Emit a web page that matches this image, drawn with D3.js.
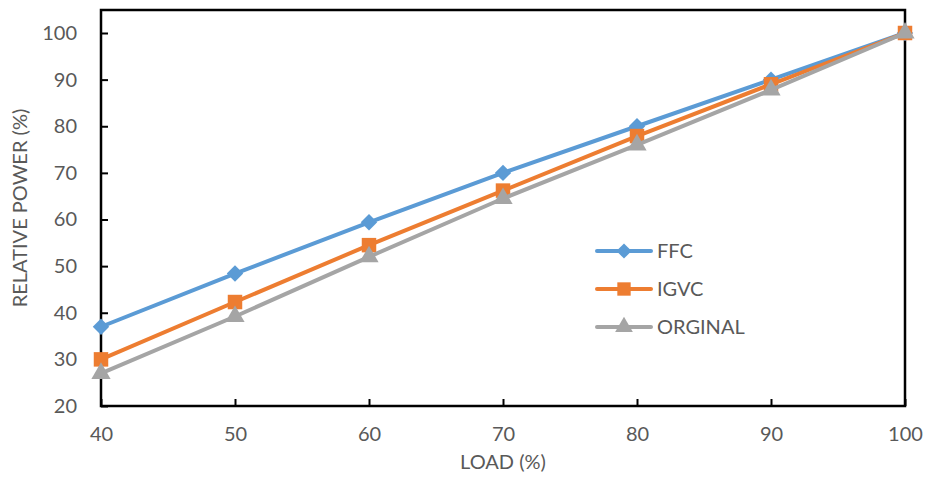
<!DOCTYPE html>
<html><head><meta charset="utf-8">
<script src="https://cdn.jsdelivr.net/npm/d3@7"></script>
<style>body{margin:0;background:#fff;} text{font-family:Lato,"Open Sans",sans-serif;fill:#595959;}</style>
</head><body>
<svg id="c" width="929" height="477"></svg>
<script>
const loads = [40, 50, 60, 70, 80, 90, 100];
const ffc = [37, 48.4, 59.4, 70, 80, 90, 100];
const igvc = [30, 42.3, 54.5, 66.2, 77.9, 89, 100];
const orginal = [27, 39.2, 52, 64.5, 76, 87.8, 100];
const seriesNames = ["FFC", "IGVC", "ORGINAL"];
const colors = ["#5B9BD5", "#ED7D31", "#A5A5A5"];
const yTicks = [20, 30, 40, 50, 60, 70, 80, 90, 100];
const xTicks = [40, 50, 60, 70, 80, 90, 100];

const svg = d3.select("#c");
const L = 101, R = 905, T = 33, B = 406;
const x = d3.scaleLinear().domain([40, 100]).range([L, R]);
const y = d3.scaleLinear().domain([20, 100]).range([B, T]);
const FS = 20;

// frame
svg.append("rect").attr("x", L).attr("y", 10).attr("width", R - L).attr("height", B - 10)
  .attr("fill", "none").attr("stroke", "#000").attr("stroke-width", 2.5);

const yAxis = svg.append("g").attr("transform", `translate(${L},0)`)
  .call(d3.axisLeft(y).tickValues(yTicks).tickSizeInner(-7).tickSizeOuter(0).tickPadding(24));
yAxis.select(".domain").remove();
yAxis.selectAll("line").attr("stroke", "#000").attr("stroke-width", 2);
yAxis.selectAll("text").attr("font-size", FS).style("fill", "#595959").attr("font-family", "Lato, sans-serif");

const xAxis = svg.append("g").attr("transform", `translate(0,${B})`)
  .call(d3.axisBottom(x).tickValues(xTicks).tickSizeInner(-7).tickSizeOuter(0).tickPadding(21));
xAxis.select(".domain").remove();
xAxis.selectAll("line").attr("stroke", "#000").attr("stroke-width", 2);
xAxis.selectAll("text").attr("font-size", FS).style("fill", "#595959").attr("font-family", "Lato, sans-serif");

svg.append("text").attr("x", (L + R) / 2).attr("y", 469).attr("text-anchor", "middle")
  .attr("font-size", FS).text("LOAD (%)");
svg.append("text").attr("transform", `translate(27,208) rotate(-90)`)
  .attr("text-anchor", "middle").attr("font-size", FS).text("RELATIVE POWER (%)");

const data = [ffc, igvc, orginal];
const line = d3.line().x((d, i) => x(loads[i])).y(d => y(d));
const symbols = [d3.symbolSquare, d3.symbolSquare, d3.symbolTriangle];
const sizes = [135, 210, 160];
const rot = [" rotate(45)", "", ""];

data.forEach((vals, s) => {
  svg.append("path").datum(vals).attr("d", line).attr("fill", "none")
    .attr("stroke", colors[s]).attr("stroke-width", 4).attr("stroke-linejoin", "round");
  svg.selectAll(null).data(vals).enter().append("path")
    .attr("d", d3.symbol().type(symbols[s]).size(sizes[s]))
    .attr("transform", (d, i) => `translate(${x(loads[i])},${y(d)})` + rot[s])
    .attr("fill", colors[s]);
});

// legend
const legY = [251, 289, 327];
seriesNames.forEach((n, s) => {
  const g = svg.append("g");
  g.append("line").attr("x1", 597).attr("x2", 651).attr("y1", legY[s]).attr("y2", legY[s])
    .attr("stroke", colors[s]).attr("stroke-width", 4).attr("stroke-linecap", "round");
  g.append("path").attr("d", d3.symbol().type(symbols[s]).size(sizes[s] * 0.85))
    .attr("transform", `translate(624,${legY[s]})` + rot[s]).attr("fill", colors[s]);
  g.append("text").attr("x", 657).attr("y", legY[s]).attr("dy", "0.35em")
    .attr("font-size", FS).text(n);
});
</script>
</body></html>
